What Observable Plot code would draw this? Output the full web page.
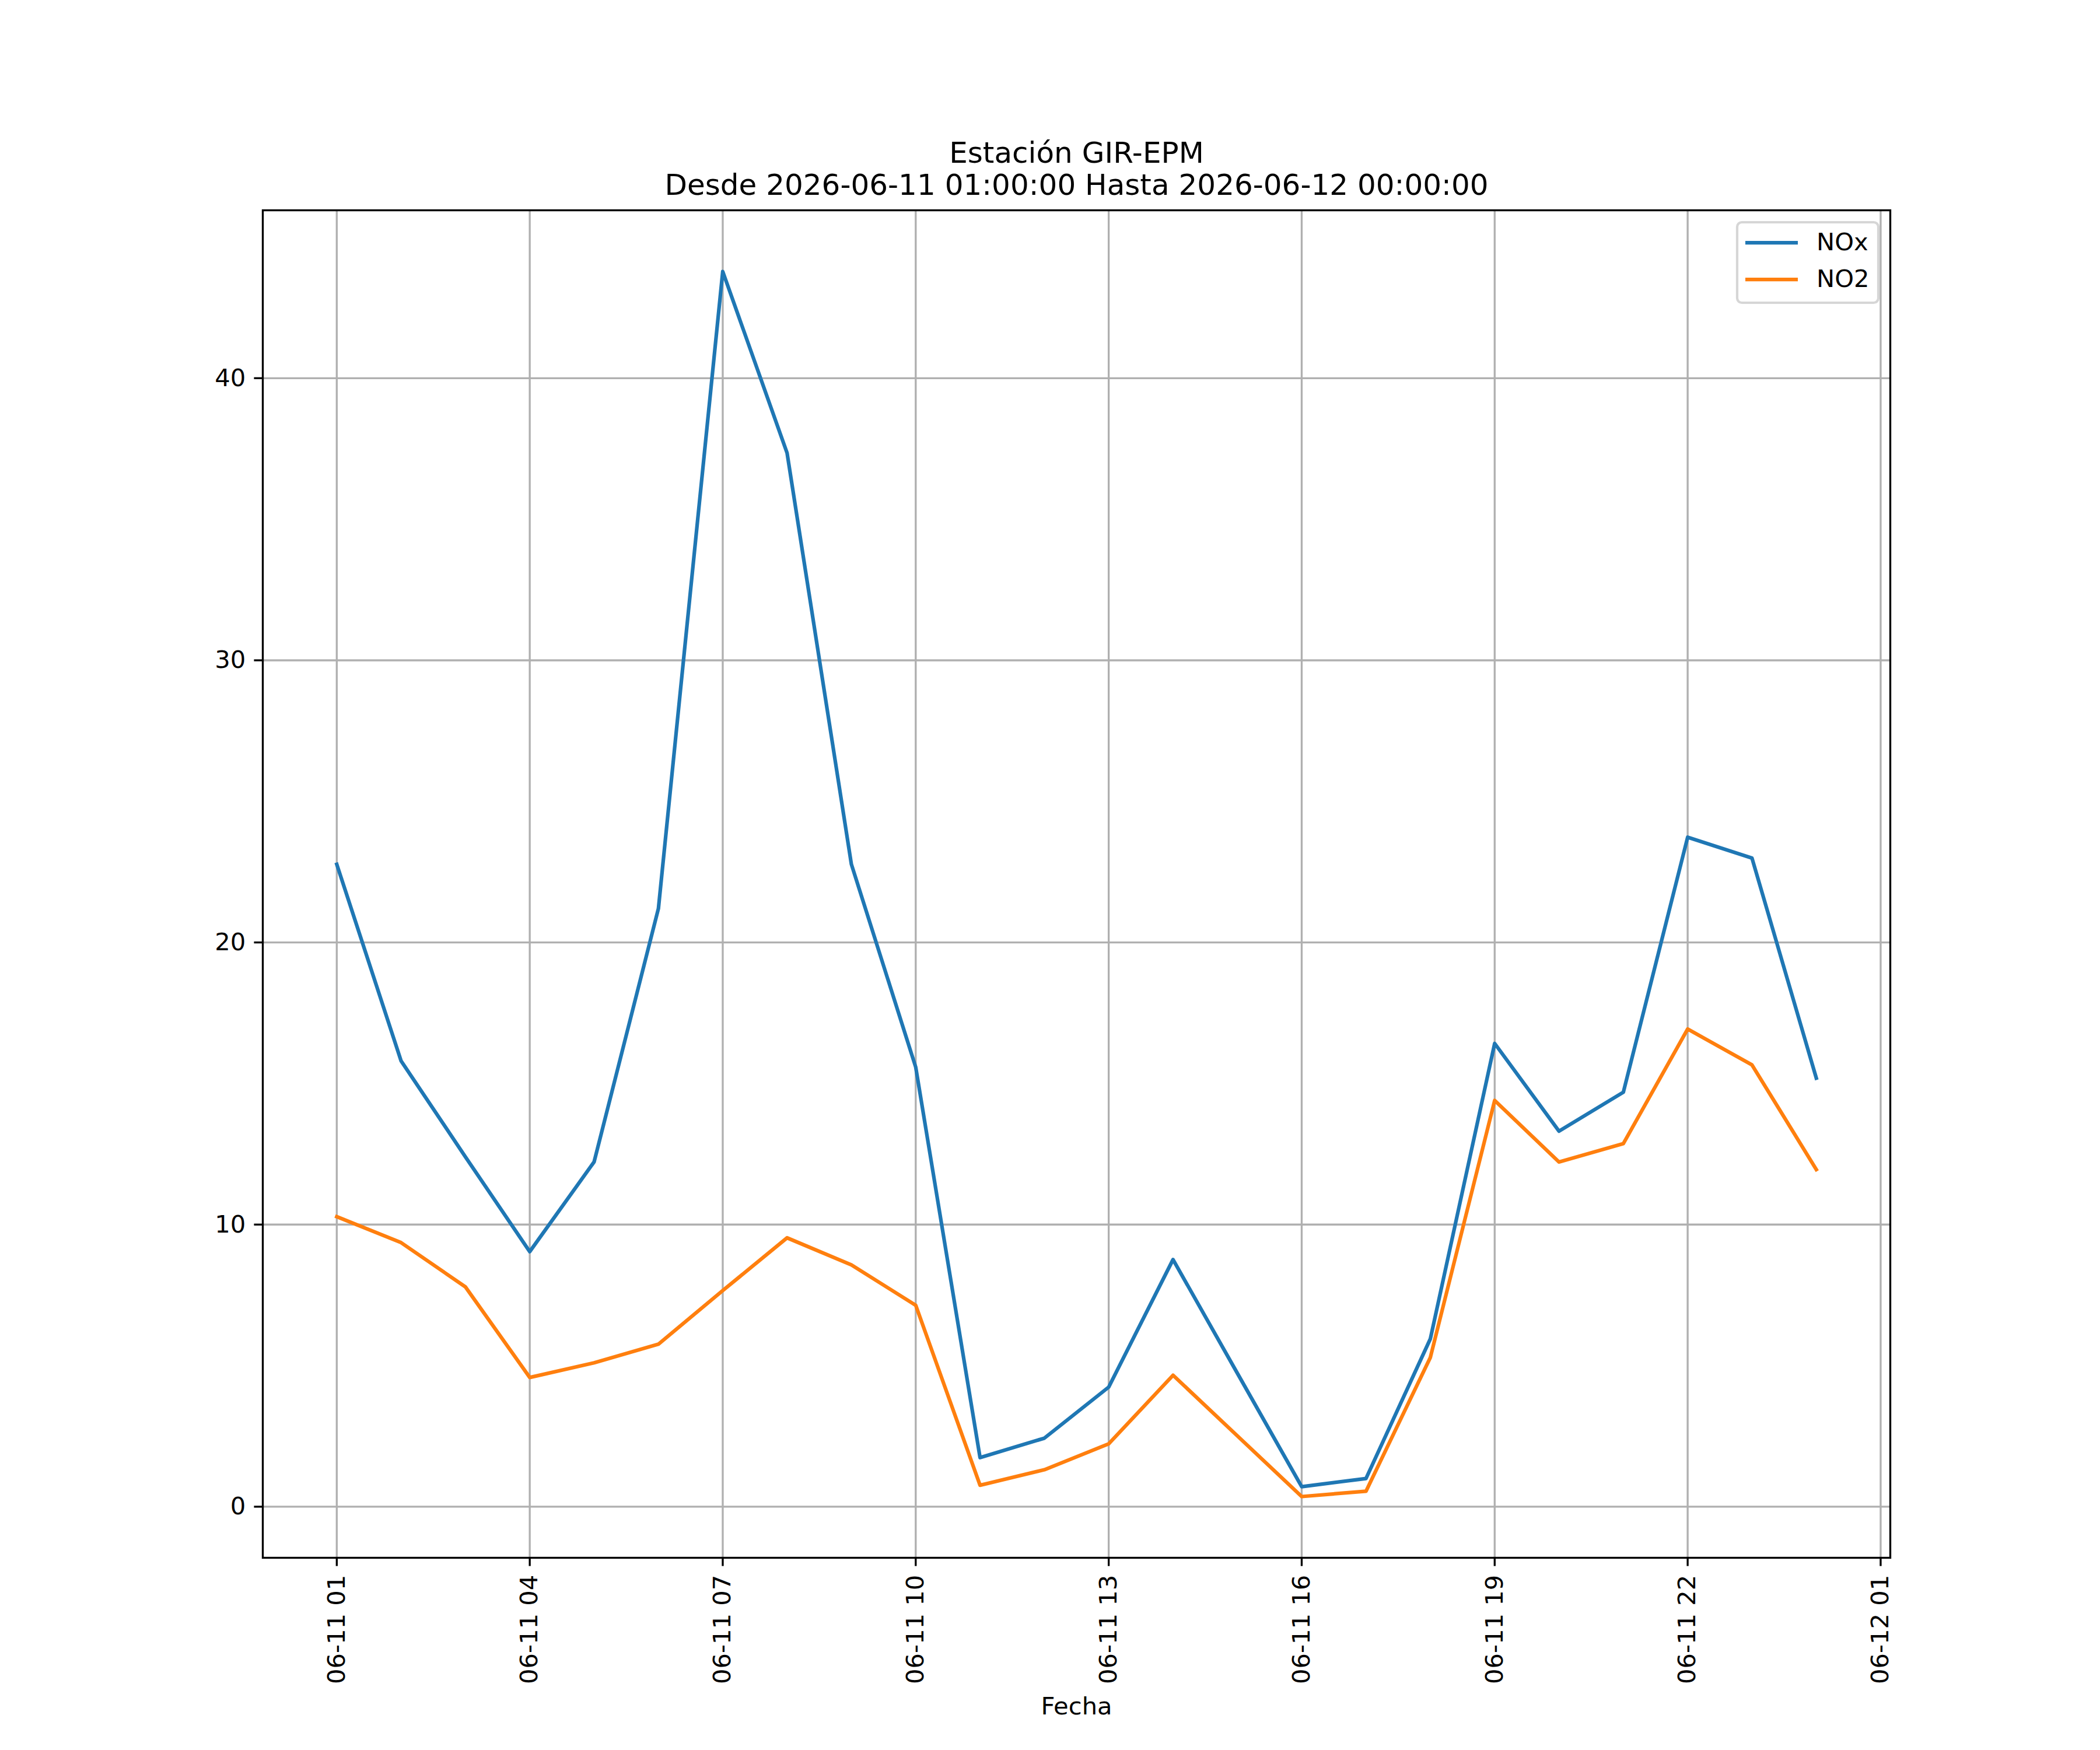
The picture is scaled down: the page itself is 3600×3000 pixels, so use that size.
<!DOCTYPE html>
<html>
<head>
<meta charset="utf-8">
<script src="https://cdn.jsdelivr.net/npm/d3@7"></script>
<script src="https://cdn.jsdelivr.net/npm/@observablehq/plot@0.6"></script>
<style>
  html, body { margin: 0; padding: 0; background: white; }
  #chart svg { display: block; }
</style>
</head>
<body>
<div id="chart"></div>
<script>
// ---- data ----
const times = [
  "2026-06-11T01:00Z","2026-06-11T02:00Z","2026-06-11T03:00Z","2026-06-11T04:00Z",
  "2026-06-11T05:00Z","2026-06-11T06:00Z","2026-06-11T07:00Z","2026-06-11T08:00Z",
  "2026-06-11T09:00Z","2026-06-11T10:00Z","2026-06-11T11:00Z","2026-06-11T12:00Z",
  "2026-06-11T13:00Z","2026-06-11T14:00Z","2026-06-11T15:00Z","2026-06-11T16:00Z",
  "2026-06-11T17:00Z","2026-06-11T18:00Z","2026-06-11T19:00Z","2026-06-11T20:00Z",
  "2026-06-11T21:00Z","2026-06-11T22:00Z","2026-06-11T23:00Z","2026-06-12T00:00Z"
];
const nox = [22.77, 15.80, 12.40, 9.04, 12.22, 21.20, 43.78, 37.35, 22.77, 15.58, 1.74, 2.43,
             4.24, 8.76, 4.73, 0.71, 1.00, 5.95, 16.42, 13.31, 14.69, 23.73, 22.99, 15.19];
const no2 = [10.28, 9.36, 7.79, 4.58, 5.10, 5.76, 7.66, 9.53, 8.57, 7.14, 0.76, 1.31,
             2.23, 4.66, 2.51, 0.36, 0.55, 5.29, 14.40, 12.22, 12.87, 16.93, 15.66, 11.95];
const seriesNames = ["NOx", "NO2"];
const xTickDates = [
  "2026-06-11T01:00Z","2026-06-11T04:00Z","2026-06-11T07:00Z","2026-06-11T10:00Z",
  "2026-06-11T13:00Z","2026-06-11T16:00Z","2026-06-11T19:00Z","2026-06-11T22:00Z",
  "2026-06-12T01:00Z"
];
const yTicks = [0, 10, 20, 30, 40];
const titleLine1 = "Estación GIR-EPM";
const titleLine2 = "Desde 2026-06-11 01:00:00 Hasta 2026-06-12 00:00:00";
const xLabel = "Fecha";

// ---- build ----
const colors = {"NOx": "#1f77b4", "NO2": "#ff7f0e"};
const rowsNox = times.map((t, i) => ({time: new Date(t), value: nox[i], series: "NOx"}));
const rowsNo2 = times.map((t, i) => ({time: new Date(t), value: no2[i], series: "NO2"}));
const xTicks = xTickDates.map(d => new Date(d));

// matplotlib-like 5% margins
const tMin = new Date(times[0]).getTime(), tMax = new Date(times[times.length - 1]).getTime();
const tPad = (tMax - tMin) * 0.05;
const allV = nox.concat(no2);
const vMin = d3.min(allV), vMax = d3.max(allV), vPad = (vMax - vMin) * 0.05;

const FS = 41.67;       // 10pt at 300dpi
const LW = 6.25;        // 1.5pt
const THIN = 3.33;      // 0.8pt

function legendMark(index, scales, values, dimensions) {
  const {width, marginRight, marginTop} = dimensions;
  const right = width - marginRight;
  const g = d3.create("svg:g");
  const boxW = 242, boxH = 138;
  const boxX = right - 20 - boxW, boxY = marginTop + 21;
  g.append("rect")
    .attr("x", boxX).attr("y", boxY).attr("width", boxW).attr("height", boxH)
    .attr("rx", 8).attr("ry", 8)
    .attr("fill", "white").attr("fill-opacity", 0.8)
    .attr("stroke", "#cccccc").attr("stroke-opacity", 0.8).attr("stroke-width", 4.17);
  seriesNames.forEach((name, i) => {
    const cy = boxY + 35 + i * 63;
    g.append("line")
      .attr("x1", boxX + 14).attr("x2", boxX + 104)
      .attr("y1", cy).attr("y2", cy)
      .attr("stroke", colors[name]).attr("stroke-width", LW);
    g.append("text")
      .attr("x", boxX + 136).attr("y", cy + 13)
      .attr("text-anchor", "start")
      .attr("font-size", FS).attr("fill", "black")
      .text(name);
  });
  return g.node();
}

const chart = Plot.plot({
  width: 3600,
  height: 3000,
  marginLeft: 450,
  marginRight: 360,
  marginTop: 360,
  marginBottom: 330,
  style: {fontFamily: "DejaVu Sans", fontSize: FS + "px", background: "white", color: "black"},
  x: {type: "utc", domain: [new Date(tMin - tPad), new Date(tMax + tPad)]},
  y: {domain: [vMin - vPad, vMax + vPad]},
  marks: [
    Plot.gridX(xTicks, {stroke: "#b0b0b0", strokeOpacity: 1, strokeWidth: THIN}),
    Plot.gridY(yTicks, {stroke: "#b0b0b0", strokeOpacity: 1, strokeWidth: THIN}),
    Plot.line(rowsNox, {x: "time", y: "value", stroke: colors["NOx"], strokeWidth: LW,
      strokeLinejoin: "round", strokeLinecap: "square"}),
    Plot.line(rowsNo2, {x: "time", y: "value", stroke: colors["NO2"], strokeWidth: LW,
      strokeLinejoin: "round", strokeLinecap: "square"}),
    Plot.frame({stroke: "black", strokeWidth: THIN}),
    Plot.axisX(xTicks, {tickFormat: d3.utcFormat("%m-%d %H"), tickRotate: -90,
      tickSize: 14.6, tickPadding: 14.6, strokeWidth: THIN, label: null, fontSize: FS}),
    Plot.axisY(yTicks, {tickSize: 14.6, tickPadding: 14.6, strokeWidth: THIN, label: null,
      tickFormat: d => String(d), fontSize: FS}),
    Plot.text([xLabel], {text: d => d, frameAnchor: "bottom", dy: 268, fontSize: FS, fill: "black"}),
    Plot.text([titleLine1], {text: d => d, frameAnchor: "top", dy: -117, fontSize: 50, fill: "black"}),
    Plot.text([titleLine2], {text: d => d, frameAnchor: "top", dy: -62, fontSize: 50, fill: "black"}),
    legendMark
  ]
});
document.getElementById("chart").appendChild(chart);
</script>
</body>
</html>
